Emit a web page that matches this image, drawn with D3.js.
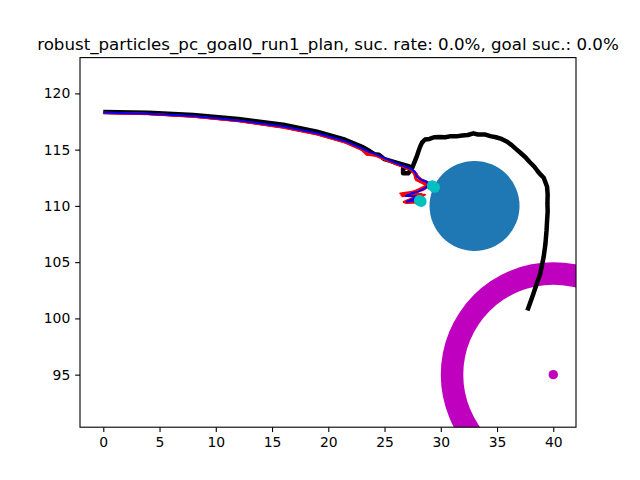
<!DOCTYPE html>
<html>
<head>
<meta charset="utf-8">
<script src="https://cdn.jsdelivr.net/npm/d3@7"></script>
<style>
  body { margin: 0; background: #fff; }
  text { font-family: "DejaVu Sans", sans-serif; }
</style>
</head>
<body>
<div id="chart"></div>
<script>
// values
const titleText = "robust_particles_pc_goal0_run1_plan, suc. rate: 0.0%, goal suc.: 0.0%";
const xTicks = [0, 5, 10, 15, 20, 25, 30, 35, 40];
const yTicks = [95, 100, 105, 110, 115, 120];
const xDomain = [-2.07, 42.02];
const yDomain = [90.33, 123.18];

const obstacleCenter = [33, 110];
const obstacleRadius = 4;
const goalCenter = [40, 95];
const goalRing = [8, 10];
const endPoints = [[29.25, 111.8], [29.45, 111.65], [28.1, 110.5], [28.25, 110.4]];

// executed trajectory (black)
const actualPath = [
  [0, 118.35], [4, 118.28], [8, 118.08], [12, 117.72], [16, 117.22], [19, 116.6],
  [21.5, 115.88], [23.0, 115.25], [23.7, 114.85], [24.1, 114.6], [24.5, 114.55],
  [25.0, 114.15], [26.2, 113.8], [27.2, 113.5], [26.65, 113.35], [26.65, 112.9],
  [27.1, 112.9], [27.45, 113.35], [27.85, 114.35], [28.05, 114.95], [28.2, 115.35],
  [28.35, 115.65], [28.6, 115.9], [29.0, 115.95], [29.4, 116.1], [29.9, 116.12],
  [30.4, 116.1], [30.9, 116.2], [31.4, 116.18], [31.9, 116.25], [32.4, 116.3],
  [32.9, 116.45], [33.3, 116.35], [33.9, 116.35], [34.4, 116.2], [34.9, 116.1],
  [35.4, 115.95], [35.9, 115.7], [36.3, 115.4], [36.7, 115.05], [37.1, 114.7],
  [37.5, 114.35], [37.9, 113.9], [38.3, 113.5], [38.6, 113.1], [38.9, 112.75],
  [39.15, 112.5], [39.3, 112.1], [39.45, 111.7], [39.5, 111.0], [39.48, 110.2],
  [39.5, 109.5], [39.45, 108.7], [39.4, 107.8], [39.3, 106.6], [39.15, 105.5],
  [38.85, 104.0], [38.5, 103.0], [38.2, 102.1], [37.7, 100.7]
];

// planned path (blue)
const plannedPath = [
  [0, 118.3], [4, 118.2], [8, 117.98], [12, 117.6], [16, 117.05], [19, 116.45],
  [21.5, 115.75], [23.0, 115.1], [23.6, 114.8], [24.2, 114.6], [26.0, 113.8],
  [27.26, 113.34], [27.7, 113.04], [27.86, 112.6], [28.3, 112.3], [28.75, 112.15],
  [28.9, 111.86], [28.6, 111.57], [28.0, 111.27], [27.42, 111.12], [26.9, 110.88],
  [28.15, 110.84], [26.97, 110.37], [27.86, 110.52]
];

// particle paths (red)
const particlePaths = [
  [[0, 118.25], [4, 118.15], [8, 117.92], [12, 117.52], [16, 116.95], [19, 116.35],
   [21.5, 115.62], [23.0, 114.95], [23.4, 114.55], [24.2, 114.45], [26.0, 113.7],
   [27.2, 113.3], [27.6, 112.9], [27.75, 112.4], [28.3, 112.1], [29.0, 111.8], [28.0, 111.3],
   [26.5, 110.95], [28.2, 111.0], [27.3, 110.55], [26.8, 110.3], [28.0, 110.35]],
  [[0, 118.27], [4, 118.17], [8, 117.94], [12, 117.55], [16, 116.98], [19, 116.38],
   [21.5, 115.66], [23.0, 115.0], [23.5, 114.6], [24.3, 114.5], [26.0, 113.72],
   [27.4, 113.2], [27.9, 112.8], [28.0, 112.45], [28.6, 112.1], [29.2, 111.9], [28.4, 111.4],
   [26.4, 111.1], [27.5, 110.9], [28.6, 111.0], [27.8, 110.5], [27.0, 110.45], [28.3, 110.5]],
  [[0, 118.26], [4, 118.16], [8, 117.93], [12, 117.54], [16, 116.97], [19, 116.37],
   [21.5, 115.64], [23.0, 114.98], [23.45, 114.58], [24.25, 114.48], [26.0, 113.71],
   [27.3, 113.2], [27.7, 112.8], [27.8, 112.3], [28.4, 112.0], [28.9, 111.7], [27.6, 111.2],
   [26.7, 111.0], [27.9, 110.95], [28.4, 110.9], [27.1, 110.45], [26.9, 110.25], [28.1, 110.3]],
  [[0, 118.28], [4, 118.18], [8, 117.95], [12, 117.56], [16, 117.0], [19, 116.4],
   [21.5, 115.7], [23.0, 115.05], [23.55, 114.7], [24.2, 114.55], [26.0, 113.75],
   [27.3, 113.3], [27.75, 112.95], [27.9, 112.7], [28.3, 112.35], [29.1, 112.0], [28.1, 111.5],
   [26.6, 110.85], [27.7, 111.1], [28.3, 111.05], [27.5, 110.7], [26.7, 110.35], [28.2, 110.45]]
];

const width = 640;
const height = 480;
const margin = { top: 57.6, right: 64, bottom: 52.8, left: 80 };

const svg = d3.select("#chart")
  .append("svg")
  .attr("width", width)
  .attr("height", height);

const x = d3.scaleLinear()
  .domain(xDomain)
  .range([margin.left, width - margin.right]);

const y = d3.scaleLinear()
  .domain(yDomain)
  .range([height - margin.bottom, margin.top]);

const px = r => x(r) - x(0);

svg.append("clipPath")
  .attr("id", "plot-area")
  .append("rect")
  .attr("x", margin.left)
  .attr("y", margin.top)
  .attr("width", width - margin.left - margin.right)
  .attr("height", height - margin.top - margin.bottom);

const plot = svg.append("g").attr("clip-path", "url(#plot-area)");

// obstacle
plot.append("circle")
  .attr("cx", x(obstacleCenter[0]))
  .attr("cy", y(obstacleCenter[1]))
  .attr("r", px(obstacleRadius))
  .attr("fill", "#1f77b4");

// goal region
const ring = d3.arc()
  .innerRadius(px(goalRing[0]))
  .outerRadius(px(goalRing[1]))
  .startAngle(0)
  .endAngle(2 * Math.PI);

plot.append("path")
  .attr("transform", `translate(${x(goalCenter[0])}, ${y(goalCenter[1])})`)
  .attr("d", ring())
  .attr("fill", "#bf00bf");

plot.append("circle")
  .attr("cx", x(goalCenter[0]))
  .attr("cy", y(goalCenter[1]))
  .attr("r", 4.7)
  .attr("fill", "#bf00bf");

const line = d3.line()
  .x(d => x(d[0]))
  .y(d => y(d[1]));

plot.append("path")
  .datum(actualPath)
  .attr("fill", "none")
  .attr("stroke", "black")
  .attr("stroke-width", 4.5)
  .attr("stroke-linejoin", "round")
  .attr("d", line);

plot.selectAll(".particle")
  .data(particlePaths)
  .join("path")
  .attr("class", "particle")
  .attr("fill", "none")
  .attr("stroke", "red")
  .attr("stroke-width", 2)
  .attr("stroke-linejoin", "round")
  .attr("d", line);

plot.append("path")
  .datum(plannedPath)
  .attr("fill", "none")
  .attr("stroke", "blue")
  .attr("stroke-width", 2)
  .attr("stroke-linejoin", "round")
  .attr("d", line);

plot.selectAll(".end")
  .data(endPoints)
  .join("circle")
  .attr("class", "end")
  .attr("cx", d => x(d[0]))
  .attr("cy", d => y(d[1]))
  .attr("r", 5.5)
  .attr("fill", "#00bfbf");

// axes
const xAxis = svg.append("g")
  .attr("transform", `translate(0, ${height - margin.bottom})`)
  .call(d3.axisBottom(x).tickValues(xTicks).tickSize(4.86).tickPadding(4.9));

const yAxis = svg.append("g")
  .attr("transform", `translate(${margin.left}, 0)`)
  .call(d3.axisLeft(y).tickValues(yTicks).tickSize(4.86).tickPadding(4.9));

[xAxis, yAxis].forEach(g => {
  g.select(".domain").remove();
  g.selectAll("line").attr("stroke", "black").attr("stroke-width", 1.1);
  g.selectAll("text")
    .attr("fill", "black")
    .style("font-family", "DejaVu Sans")
    .style("font-size", "13.9px");
});

svg.append("rect")
  .attr("x", margin.left)
  .attr("y", margin.top)
  .attr("width", width - margin.left - margin.right)
  .attr("height", height - margin.top - margin.bottom)
  .attr("fill", "none")
  .attr("stroke", "black")
  .attr("stroke-width", 1.1);

svg.append("text")
  .attr("x", (margin.left + width - margin.right) / 2)
  .attr("y", 50)
  .attr("text-anchor", "middle")
  .style("font-size", "16.67px")
  .attr("fill", "black")
  .text(titleText);
</script>
</body>
</html>
